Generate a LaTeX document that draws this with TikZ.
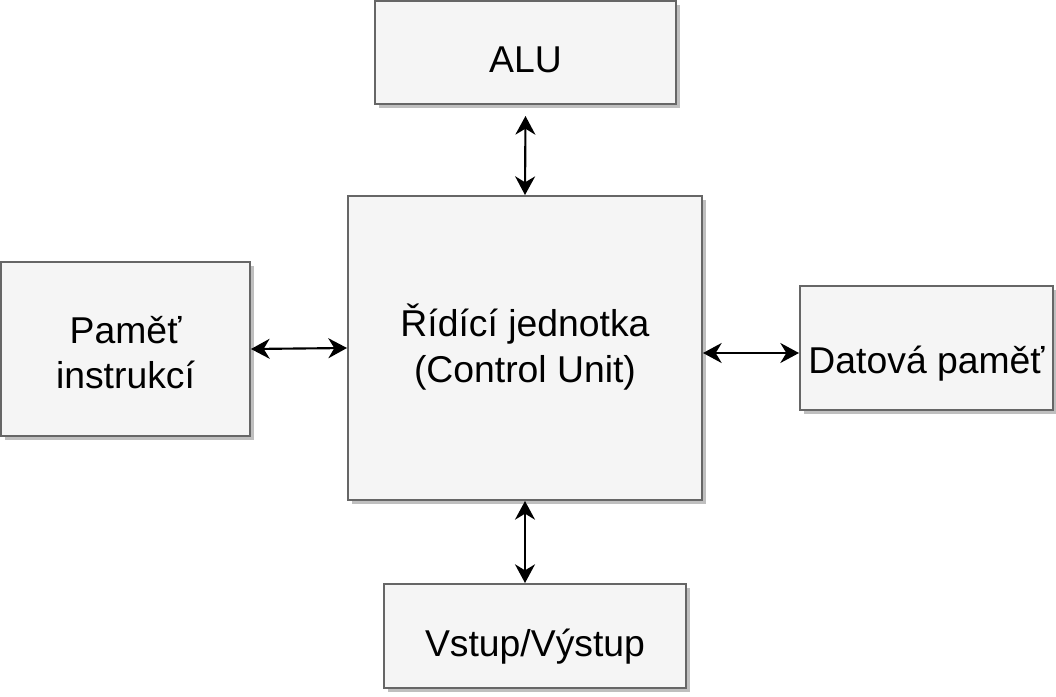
\documentclass[tikz,border=0pt]{standalone}
\usepackage{fontspec}
\setmainfont{Liberation Sans}
\usetikzlibrary{arrows.meta,shadows}
\definecolor{boxfill}{HTML}{F5F5F5}
\definecolor{boxline}{HTML}{666666}
\tikzset{
  unit/.style={draw=boxline,fill=boxfill,line width=1.5pt,align=center,
    inner sep=0pt,font=\fontsize{28}{34}\selectfont,text height=33pt,text depth=3pt,
    drop shadow={shadow xshift=3pt,shadow yshift=-3pt,fill=black!25,opacity=1}},
  link/.style={line width=1.6pt,{Stealth[length=14pt,width=15pt,inset=4.5pt]}-{Stealth[length=14pt,width=15pt,inset=4.5pt]}}
}
\begin{document}
\begin{tikzpicture}[x=0.75pt,y=-0.75pt]
\useasboundingbox(0,0)rectangle(1056,696);
\node[unit,minimum width=225.75pt,minimum height=77.25pt](alu)at(525.5,52.5){ALU};
\node[unit,minimum width=265.5pt,minimum height=228pt,text height=54pt](cu)at(525,348){Řídící jednotka\\(Control Unit)};
\node[unit,minimum width=186.75pt,minimum height=130.5pt,text height=62pt](pam)at(125.5,349){Paměť\\instrukcí};
\node[unit,minimum width=189.75pt,minimum height=93pt,text height=40.5pt](dat)at(926.5,348){Datová paměť};
\node[unit,minimum width=226.5pt,minimum height=78pt](io)at(535,636){Vstup/Výstup};
\draw[link]([yshift=-8.25pt]alu.south)--(cu.north);
\draw[link](pam.east)--(cu.west);
\draw[link]([yshift=-3.75pt]cu.east)--([yshift=-3.75pt]dat.west);
\draw[link](cu.south)--(cu.south|-io.north);
\end{tikzpicture}
\end{document}
